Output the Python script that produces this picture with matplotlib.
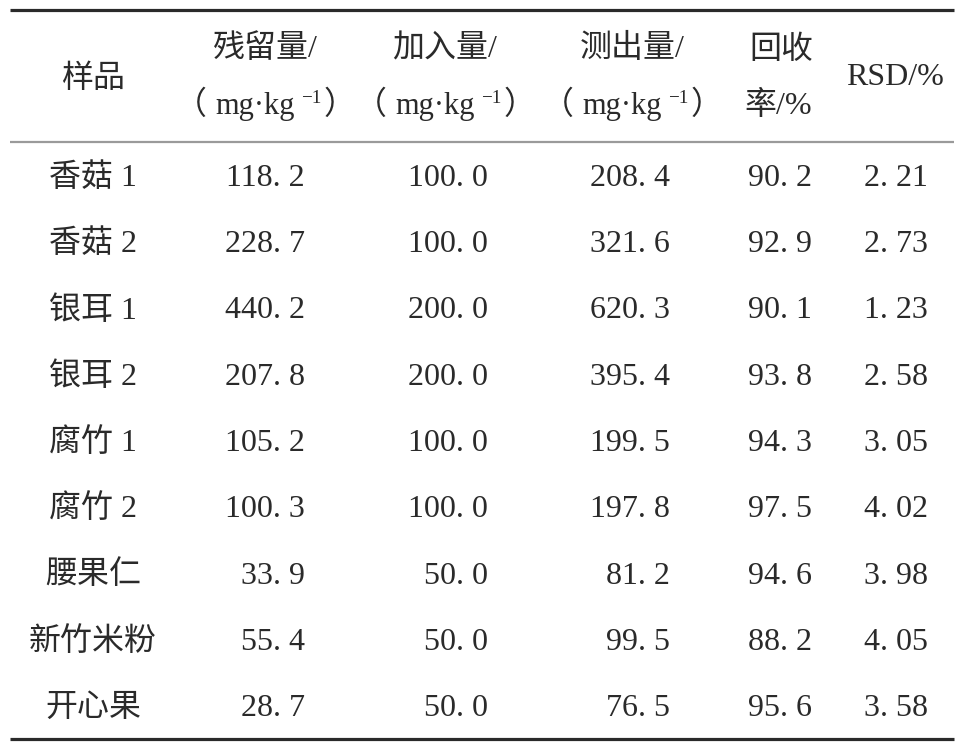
import matplotlib
matplotlib.use("Agg")
import matplotlib.pyplot as plt

# table contents
samples = ["香菇 1", "香菇 2", "银耳 1", "银耳 2", "腐竹 1", "腐竹 2", "腰果仁", "新竹米粉", "开心果"]
residue = ["118. 2", "228. 7", "440. 2", "207. 8", "105. 2", "100. 3", "33. 9", "55. 4", "28. 7"]
added = ["100. 0", "100. 0", "200. 0", "200. 0", "100. 0", "100. 0", "50. 0", "50. 0", "50. 0"]
measured = ["208. 4", "321. 6", "620. 3", "395. 4", "199. 5", "197. 8", "81. 2", "99. 5", "76. 5"]
recovery = ["90. 2", "92. 9", "90. 1", "93. 8", "94. 3", "97. 5", "94. 6", "88. 2", "95. 6"]
rsd = ["2. 21", "2. 73", "1. 23", "2. 58", "3. 05", "4. 02", "3. 98", "4. 05", "3. 58"]

header_top = ["样品", "残留量/", "加入量/", "测出量/", "回收", "RSD/%"]
recovery_sub = "率/%"

FAMILY = ["Liberation Serif", "Noto Sans CJK SC"]
TXT = "#2a2a2a"
FS = 23
WT = "light"

fig = plt.figure(figsize=(9.6, 7.46), dpi=100)
ax = fig.add_axes([0, 0, 1, 1])
ax.set_xlim(0, 960)
ax.set_ylim(746, 0)
ax.axis("off")

# rules
ax.hlines(10, 10, 954, color="#2a2a2a", lw=2.3)
ax.hlines(142, 10, 954, color="#9a9a9a", lw=1.6)
ax.hlines(739, 10, 954, color="#2a2a2a", lw=2.3)

renderer = fig.canvas.get_renderer()


def put(x, y, s, ha="center", fs=FS):
    return ax.text(x, y, s, fontsize=fs, family=FAMILY, weight=WT,
                   color=TXT, ha=ha, va="baseline")


def unit_label(xc, yb):
    # (mg·kg^-1) built piece by piece so the superscript sits right
    parts = [("（", FS, 0, 0), ("mg·kg", FS - 1, 0, 9), ("−1", FS * 0.6, -11, 6), ("）", FS, 0, 2)]
    texts = [put(0, yb + dy, s, ha="left", fs=fs) for s, fs, dy, _ in parts]
    widths = [t.get_window_extent(renderer).width for t in texts]
    gaps = [p[3] for p in parts]
    total = sum(widths) + sum(gaps)
    x = xc - total / 2
    for t, w, g in zip(texts, widths, gaps):
        x += g
        t.set_x(x)
        x += w


# header
head_x = [93, 265, 445, 632, 781, 895]
put(head_x[0], 87, header_top[0])
for xc, lab in zip(head_x[1:4], header_top[1:4]):
    put(xc, 57, lab)
    unit_label(xc, 114)
put(head_x[4], 58, header_top[4])
put(head_x[4] - 3, 114, recovery_sub)
put(head_x[5], 85, header_top[5])

# body
num_right = [305, 488, 670, 812, 928]
cols = [residue, added, measured, recovery, rsd]
for i, name in enumerate(samples):
    yb = 176 + i * 66.25 + 10
    put(93, yb, name)
    for xr, col in zip(num_right, cols):
        put(xr, yb, col[i], ha="right")

fig.savefig("out.png", dpi=100, facecolor="white")
